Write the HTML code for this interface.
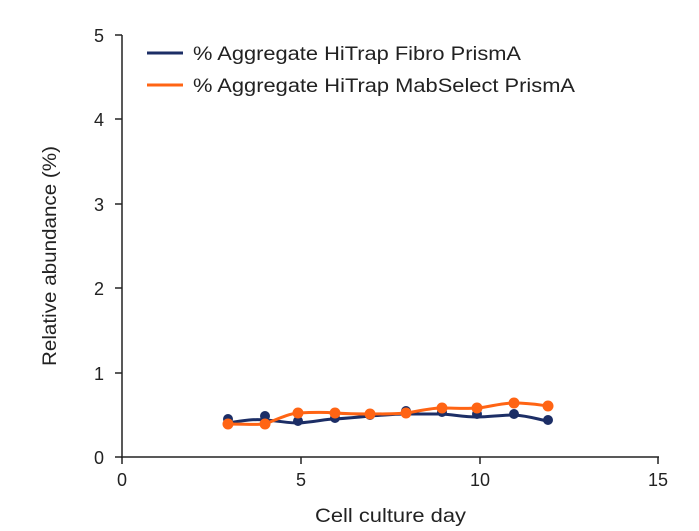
<!DOCTYPE html>
<html><head><style>body{margin:0;background:#fff}svg{display:block}text{font-family:"Liberation Sans",sans-serif;fill:#222}</style></head><body>
<svg width="699" height="531" viewBox="0 0 699 531">
<g stroke="#222" stroke-width="1.5" fill="none">
<line x1="122" y1="35" x2="122" y2="458"/>
<line x1="121" y1="457" x2="659" y2="457"/>
<line x1="115" y1="35" x2="122" y2="35"/><line x1="115" y1="119" x2="122" y2="119"/><line x1="115" y1="204" x2="122" y2="204"/><line x1="115" y1="288" x2="122" y2="288"/><line x1="115" y1="373" x2="122" y2="373"/><line x1="115" y1="457" x2="122" y2="457"/>
<line x1="122" y1="457" x2="122" y2="464"/><line x1="301" y1="457" x2="301" y2="464"/><line x1="480" y1="457" x2="480" y2="464"/><line x1="658" y1="457" x2="658" y2="464"/>
</g>
<g font-size="18" text-anchor="end"><text x="104" y="42">5</text><text x="104" y="126">4</text><text x="104" y="211">3</text><text x="104" y="295">2</text><text x="104" y="380">1</text><text x="104" y="464">0</text></g>
<g font-size="18" text-anchor="middle"><text x="122" y="486">0</text><text x="301" y="486">5</text><text x="480" y="486">10</text><text x="658" y="486">15</text></g>
<text x="315" y="522" font-size="19" textLength="151" lengthAdjust="spacingAndGlyphs">Cell culture day</text>
<text transform="translate(56,366) rotate(-90)" font-size="19" textLength="220" lengthAdjust="spacingAndGlyphs">Relative abundance (%)</text>
<path d="M228,423 C245,420 255,419 265,420 C280,421 288,423 298,423 C315,422 325,419 335,419 C350,418 360,417 370,416 C385,415 395,414 406,414 C420,414 430,414 442,414 C455,415 465,417 477,417 C490,417 500,415 514,415 C530,416 540,420 548,421" fill="none" stroke="#1c2e66" stroke-width="3"/>
<g fill="#1c2e66"><circle cx="228" cy="419" r="5"/><circle cx="265" cy="416" r="5"/><circle cx="298" cy="421" r="5"/><circle cx="335" cy="418" r="5"/><circle cx="370" cy="415" r="5"/><circle cx="406" cy="411" r="5"/><circle cx="442" cy="412" r="5"/><circle cx="477" cy="414" r="5"/><circle cx="514" cy="414" r="5"/><circle cx="548" cy="420" r="5"/></g>
<path d="M228,424 C245,424 255,425 265,424 C280,418 288,414 298,413 C315,412 325,412 335,413 C350,414 360,414 370,414 C385,414 395,414 406,413 C420,411 430,408 442,408 C455,408 465,409 477,408 C490,407 500,403 514,403 C530,403 540,405 548,406" fill="none" stroke="#ff6414" stroke-width="3"/>
<g fill="#ff6414"><circle cx="228" cy="424" r="5.5"/><circle cx="265" cy="424" r="5.5"/><circle cx="298" cy="413" r="5.5"/><circle cx="335" cy="413" r="5.5"/><circle cx="370" cy="414" r="5.5"/><circle cx="406" cy="413" r="5.5"/><circle cx="442" cy="408" r="5.5"/><circle cx="477" cy="408" r="5.5"/><circle cx="514" cy="403" r="5.5"/><circle cx="548" cy="406" r="5.5"/></g>
<line x1="147" y1="53" x2="183" y2="53" stroke="#1c2e66" stroke-width="3"/>
<line x1="147" y1="85" x2="183" y2="85" stroke="#ff6414" stroke-width="3"/>
<text x="193" y="60" font-size="19" textLength="328" lengthAdjust="spacingAndGlyphs">% Aggregate HiTrap Fibro PrismA</text>
<text x="193" y="92" font-size="19" textLength="382" lengthAdjust="spacingAndGlyphs">% Aggregate HiTrap MabSelect PrismA</text>
</svg>
</body></html>
